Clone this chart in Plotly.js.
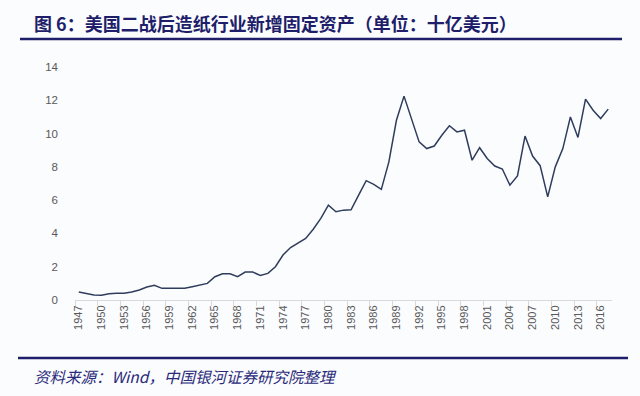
<!DOCTYPE html>
<html>
<head>
<meta charset="utf-8">
<script src="https://cdn.plot.ly/plotly-3.0.1.min.js"></script>
<style>
html,body{margin:0;padding:0;background:#fbfcfe;}
#chart{width:640px;height:396px;}
</style>
</head>
<body>
<div id="chart"></div>
<script>
const years = [];
for (let y = 1947; y <= 2017; y++) years.push(y);

const fixedAssets = [
  0.48, 0.40, 0.30, 0.28, 0.38, 0.40, 0.40, 0.48, 0.60, 0.78,
  0.88, 0.70, 0.70, 0.70, 0.70, 0.80, 0.90, 1.00, 1.40, 1.58,
  1.58, 1.40, 1.68, 1.68, 1.48, 1.60, 2.00, 2.70, 3.15, 3.45,
  3.70, 4.25, 4.90, 5.70, 5.30, 5.40, 5.42, 6.30, 7.17, 6.95,
  6.65, 8.30, 10.80, 12.25, 10.90, 9.50, 9.10, 9.25, 9.90, 10.47,
  10.10, 10.20, 8.40, 9.15, 8.50, 8.05, 7.87, 6.90, 7.45, 9.85,
  8.65, 8.07, 6.20, 8.00, 9.10, 11.00, 9.77, 12.07, 11.40, 10.90,
  11.47
];

const tickYears = [];
for (let y = 1947; y <= 2016; y += 3) tickYears.push(y);
const tickMarks = [];
for (let y = 1946.5; y <= 2016; y += 3) tickMarks.push(y);
const yTicks = [0, 2, 4, 6, 8, 10, 12, 14];

const titleText = "图 6：美国二战后造纸行业新增固定资产（单位：十亿美元）";
const sourceText = "资料来源：Wind，中国银河证券研究院整理";

// plot area in pixels
const L = 75, R = 612, T = 67, B = 300;
const W = R - L, H = B - T;
const px = x => (x - L) / W;
const py = y => (B - y) / H;

const data = [{
  x: years,
  y: fixedAssets,
  type: 'scatter',
  mode: 'lines',
  line: {color: '#2f3d5c', width: 1.5},
  hoverinfo: 'skip'
}];

const navy = '#1e1e6a';

const layout = {
  width: 640, height: 396,
  margin: {l: L, r: 640 - R, t: T, b: 396 - B, pad: 0},
  paper_bgcolor: '#fbfcfe',
  plot_bgcolor: '#fbfcfe',
  showlegend: false,
  xaxis: {
    range: [1946.5, 2017.5],
    tickvals: tickYears,
    ticktext: tickYears.map(String),
    tickangle: -90,
    ticks: '',
    showgrid: false,
    zeroline: false,
    showline: true,
    linecolor: '#d9d9d9',
    linewidth: 1,
    tickfont: {family: 'Liberation Sans, Arial, sans-serif', size: 11, color: '#595959'},
    fixedrange: true
  },
  xaxis2: {
    overlaying: 'x',
    range: [1946.5, 2017.5],
    tickvals: tickMarks,
    ticks: 'outside',
    ticklen: 5,
    tickcolor: '#d9d9d9',
    showticklabels: false,
    showgrid: false,
    zeroline: false,
    showline: false,
    anchor: 'y'
  },
  yaxis: {
    range: [0, 14],
    tickvals: yTicks,
    ticktext: yTicks.map(String),
    showgrid: false,
    zeroline: false,
    showline: false,
    ticks: '',
    ticklabelstandoff: 16,
    tickfont: {family: 'Liberation Sans, Arial, sans-serif', size: 11.5, color: '#595959'},
    fixedrange: true
  },
  shapes: [
    {type: 'line', xref: 'paper', yref: 'paper', x0: px(20), x1: px(622), y0: py(39), y1: py(39),
     line: {color: navy, width: 2.5}},
    {type: 'line', xref: 'paper', yref: 'paper', x0: px(18), x1: px(628), y0: py(358), y1: py(358),
     line: {color: navy, width: 2.5}}
  ],
  annotations: [
    {text: '<b>' + titleText + '</b>', xref: 'paper', yref: 'paper', x: px(32), y: py(23),
     xanchor: 'left', yanchor: 'middle', showarrow: false,
     font: {family: 'Noto Sans CJK SC, sans-serif', size: 18, color: navy}},
    {text: '<i>' + sourceText + '</i>', xref: 'paper', yref: 'paper', x: px(32), y: py(376),
     xanchor: 'left', yanchor: 'middle', showarrow: false,
     font: {family: 'Noto Sans CJK SC, sans-serif', size: 15.5, color: '#2a2a7a'}}
  ]
};

// invisible trace so xaxis2 (tick marks between categories) is drawn
data.push({x: [1946.5], y: [0], xaxis: 'x2', yaxis: 'y', mode: 'markers',
  marker: {opacity: 0}, hoverinfo: 'skip', showlegend: false});

Plotly.newPlot('chart', data, layout, {staticPlot: true, displayModeBar: false});
</script>
</body>
</html>
